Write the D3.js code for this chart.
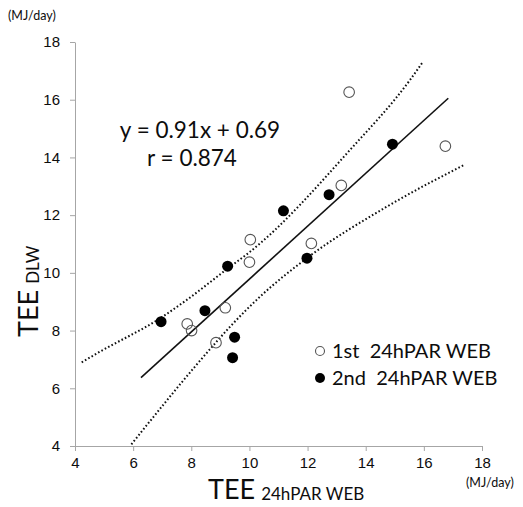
<!DOCTYPE html>
<html>
<head>
<meta charset="utf-8">
<script src="https://cdn.jsdelivr.net/npm/d3@7"></script>
<style>
  html, body { margin: 0; padding: 0; background: #fff; }
  svg { display: block; font-family: Lato, "Open Sans", sans-serif; }
</style>
</head>
<body>
<div id="chart"></div>
<script>
// values
const xTicks = [4, 6, 8, 10, 12, 14, 16, 18]
const yTicks = [4, 6, 8, 10, 12, 14, 16, 18]

const firstWeb = [
  [7.86, 8.23], [8.01, 8.00], [8.85, 7.58], [9.17, 8.79], [10.00, 10.37],
  [10.03, 11.15], [12.13, 11.02], [13.16, 13.03], [13.43, 16.26], [16.74, 14.39]
]
const secondWeb = [
  [6.96, 8.31], [8.47, 8.69], [9.25, 10.23], [9.49, 7.77], [9.42, 7.06],
  [11.17, 12.15], [11.98, 10.51], [12.74, 12.71], [14.92, 14.46]
]
const fitLine = [[6.27, 6.37], [16.84, 16.05]]
const upperBand = [
  [4.23, 6.90], [4.86, 7.27], [6.92, 8.42], [7.84, 9.06], [9.33, 10.21],
  [10.02, 10.73], [13.46, 14.26], [15.52, 16.68], [15.98, 17.33]
]
const lowerBand = [
  [5.94, 4.06], [8.84, 7.58], [9.33, 8.13], [10.36, 9.17], [11.99, 10.52],
  [14.72, 12.29], [17.42, 13.76]
]
const equationText = "y = 0.91x + 0.69"
const rText = "r = 0.874"
const legendLabels = ["1st  24hPAR WEB", "2nd  24hPAR WEB"]

const width = 523, height = 507
const margin = {top: 42, right: 41, bottom: 61, left: 75}

const x = d3.scaleLinear().domain([4, 18]).range([margin.left, width - margin.right])
const y = d3.scaleLinear().domain([4, 18]).range([height - margin.bottom, margin.top])

const svg = d3.select("#chart").append("svg")
  .attr("width", width)
  .attr("height", height)

const axisColor = "#a6a6a6"
const ink = "#0d0d0d"

svg.append("g")
  .attr("transform", `translate(0,${y(4)})`)
  .call(d3.axisBottom(x).tickValues(xTicks).tickSize(5).tickSizeOuter(0).tickPadding(6))
  .call(g => g.selectAll("line,path").attr("stroke", axisColor))
  .call(g => g.selectAll("text").attr("fill", ink).attr("font-size", 15))

svg.append("g")
  .attr("transform", `translate(${x(4)},0)`)
  .call(d3.axisLeft(y).tickValues(yTicks).tickSize(5).tickSizeOuter(0).tickPadding(10))
  .call(g => g.selectAll("line,path").attr("stroke", axisColor))
  .call(g => g.selectAll("text").attr("fill", ink).attr("font-size", 15))

const line = d3.line().x(d => x(d[0])).y(d => y(d[1]))
const bandLine = d3.line().x(d => x(d[0])).y(d => y(d[1])).curve(d3.curveMonotoneX)

;[upperBand, lowerBand].forEach(band => {
  svg.append("path")
    .datum(band)
    .attr("fill", "none")
    .attr("stroke", "#111")
    .attr("stroke-width", 2)
    .attr("stroke-dasharray", "1.6,2.2")
    .attr("d", bandLine)
})

svg.append("path")
  .datum(fitLine)
  .attr("fill", "none")
  .attr("stroke", "#111")
  .attr("stroke-width", 1.6)
  .attr("d", line)

svg.append("g").selectAll("circle")
  .data(secondWeb)
  .join("circle")
  .attr("cx", d => x(d[0]))
  .attr("cy", d => y(d[1]))
  .attr("r", 5.5)
  .attr("fill", "#000")

svg.append("g").selectAll("circle")
  .data(firstWeb)
  .join("circle")
  .attr("cx", d => x(d[0]))
  .attr("cy", d => y(d[1]))
  .attr("r", 5.3)
  .attr("fill", "none")
  .attr("stroke", "#555")
  .attr("stroke-width", 1.1)

// equation
svg.append("text")
  .attr("x", 200).attr("y", 138)
  .attr("text-anchor", "middle")
  .attr("font-size", 22.5)
  .attr("fill", ink)
  .text(equationText)
svg.append("text")
  .attr("x", 192).attr("y", 166)
  .attr("text-anchor", "middle")
  .attr("font-size", 22.5)
  .attr("fill", ink)
  .text(rText)

// legend
const legend = svg.append("g")
legend.append("circle").attr("cx", 320).attr("cy", 351).attr("r", 4.5)
  .attr("fill", "none").attr("stroke", "#555").attr("stroke-width", 1.1)
legend.append("circle").attr("cx", 320).attr("cy", 378).attr("r", 5)
  .attr("fill", "#000")
legendLabels.forEach((label, i) => {
  legend.append("text")
    .attr("x", 332).attr("y", 358 + i * 27)
    .attr("font-size", 20)
    .attr("fill", ink)
    .style("white-space", "pre")
    .text(label)
})

// axis titles
const xTitle = svg.append("text")
  .attr("x", 208).attr("y", 499)
  .attr("fill", ink)
xTitle.append("tspan").attr("font-size", 27).text("TEE")
xTitle.append("tspan").attr("font-size", 17).attr("dx", 6).attr("dy", 1).text("24hPAR WEB")

const yTitle = svg.append("text")
  .attr("transform", "translate(38,337) rotate(-90)")
  .attr("fill", ink)
yTitle.append("tspan").attr("font-size", 27).text("TEE")
yTitle.append("tspan").attr("font-size", 17).attr("dx", 6).attr("dy", 1).text("DLW")

svg.append("text")
  .attr("x", 8).attr("y", 20)
  .attr("font-size", 12.5)
  .attr("fill", ink)
  .text("(MJ/day)")
svg.append("text")
  .attr("x", 466).attr("y", 487)
  .attr("font-size", 12.5)
  .attr("fill", ink)
  .text("(MJ/day)")
</script>
</body>
</html>
